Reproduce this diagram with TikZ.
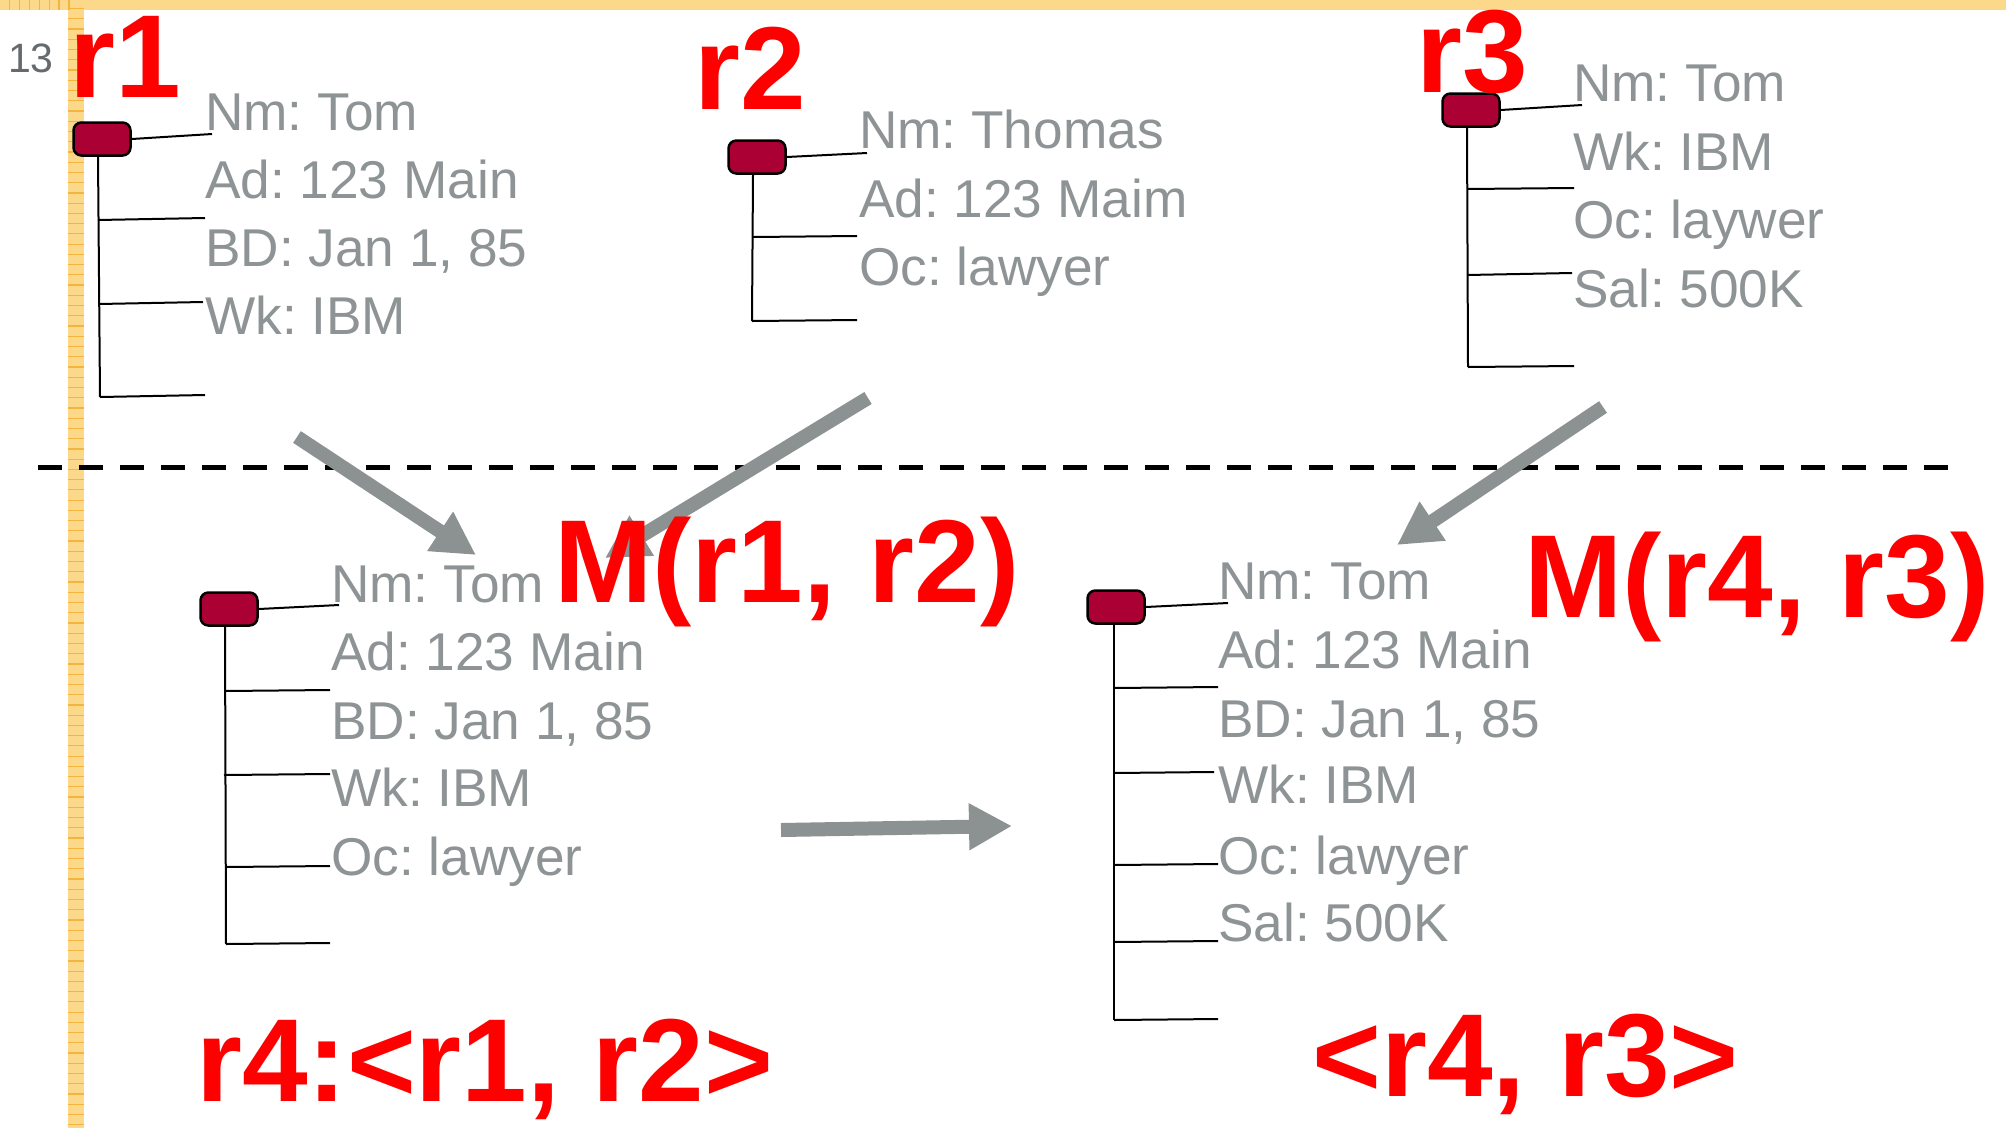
\documentclass[tikz,border=0pt]{standalone}
\usepackage{fontspec}
\setmainfont{Liberation Sans}
\usetikzlibrary{arrows.meta}
\definecolor{iconred}{RGB}{170,0,51}
\definecolor{fieldgray}{RGB}{142,147,149}
\definecolor{arrowgray}{RGB}{140,145,146}
\definecolor{baryellow}{RGB}{252,217,138}
\definecolor{tickorange}{RGB}{245,180,60}
\definecolor{numgray}{RGB}{100,106,110}
\frenchspacing
\begin{document}
\begin{tikzpicture}[x=1pt,y=-1pt,
  rec/.style={draw=black,line width=2.5pt,fill=iconred,rounded corners=8pt,minimum width=57pt,minimum height=33pt,inner sep=0pt},
  fld/.style={anchor=base west,inner sep=0pt,text=fieldgray,font=\fontsize{53.2}{60}\selectfont},
  lbl/.style={anchor=base west,inner sep=0pt,text=red,font=\fontsize{118}{130}\selectfont\bfseries},
  tree/.style={draw=black,line width=2pt},
  blk/.style={draw=arrowgray,line width=14pt,-{Triangle[length=43pt,width=44pt]}}]
\useasboundingbox (0,0) rectangle (2006,1128);
\fill[white] (0,0) rectangle (2006,1128);
% ruler bars
\fill[baryellow] (0,0) rectangle (2006,10);
\fill[baryellow] (68,0) rectangle (84,1128);
\foreach \k in {0,...,109} \draw[tickorange,line width=1.2pt] (68,{8.6+10.24*\k}) -- (84,{8.6+10.24*\k});
\foreach \k in {0,...,6} \draw[tickorange,line width=1.2pt] ({9.5+9.9*\k},0) -- ({9.5+9.9*\k},10);
\node[anchor=base west,inner sep=0pt,text=numgray,font=\fontsize{41}{48}\selectfont] (pg) at (8,72) {13};

% dashed separator
\coordinate (dl) at (38,467);
\coordinate (dr) at (1953,467);
\draw[black,line width=5pt,dash pattern=on 24pt off 17pt] (dl) -- (dr);

% ---------- record r1
\node[rec] (i1) at (102,139) {};
\coordinate (r1v) at (100,397);
\draw[tree] (i1.south) ++(-4,0) -- (r1v);
\coordinate (r1a) at (212,134);
\draw[tree] (i1.east) -- (r1a);
\coordinate (r1b0) at (98,220); \coordinate (r1b) at (205,218);
\coordinate (r1c0) at (99,304); \coordinate (r1c) at (203,302);
\coordinate (r1d) at (205,395);
\draw[tree] (r1b0) -- (r1b);
\draw[tree] (r1c0) -- (r1c);
\draw[tree] (r1v) -- (r1d);
\node[fld] (t11) at (205,130) {Nm: Tom};
\node[fld] (t12) at (205,198) {Ad: 123 Main};
\node[fld] (t13) at (205,266) {BD: Jan 1, 85};
\node[fld] (t14) at (205,334) {Wk: IBM};

% ---------- record r2
\node[rec] (i2) at (757,157) {};
\coordinate (r2v) at (752,321);
\draw[tree] (i2.south) ++(-4,0) -- (r2v);
\coordinate (r2a) at (867,153);
\draw[tree] (i2.east) -- (r2a);
\coordinate (r2b0) at (753,237); \coordinate (r2b) at (857,236);
\coordinate (r2c) at (857,320);
\draw[tree] (r2b0) -- (r2b);
\draw[tree] (r2v) -- (r2c);
\node[fld] (t21) at (859,148) {Nm: Thomas};
\node[fld] (t22) at (859,217) {Ad: 123 Maim};
\node[fld] (t23) at (859,285) {Oc: lawyer};

% ---------- record r3
\node[rec] (i3) at (1471,110) {};
\coordinate (r3v) at (1468,367);
\draw[tree] (i3.south) ++(-4,0) -- (r3v);
\coordinate (r3a) at (1582,105);
\draw[tree] (i3.east) -- (r3a);
\coordinate (r3b0) at (1467,189); \coordinate (r3b) at (1574,188);
\coordinate (r3c0) at (1467,275); \coordinate (r3c) at (1572,273);
\coordinate (r3d) at (1574,366);
\draw[tree] (r3b0) -- (r3b);
\draw[tree] (r3c0) -- (r3c);
\draw[tree] (r3v) -- (r3d);
\node[fld] (t31) at (1573,101) {Nm: Tom};
\node[fld] (t32) at (1573,170) {Wk: IBM};
\node[fld] (t33) at (1573,238) {Oc: laywer};
\node[fld] (t34) at (1573,307) {Sal: 500K};

% ---------- record r4
\node[rec] (i4) at (229,609) {};
\coordinate (r4v) at (226,944);
\draw[tree] (i4.south) ++(-4,0) -- (r4v);
\coordinate (r4a) at (339,605);
\draw[tree] (i4.east) -- (r4a);
\coordinate (r4b0) at (225,691); \coordinate (r4b) at (330,690);
\coordinate (r4c0) at (224,775); \coordinate (r4c) at (330,774);
\coordinate (r4d0) at (226,867); \coordinate (r4d) at (330,866);
\coordinate (r4e) at (330,943);
\draw[tree] (r4b0) -- (r4b);
\draw[tree] (r4c0) -- (r4c);
\draw[tree] (r4d0) -- (r4d);
\draw[tree] (r4v) -- (r4e);
\node[fld] (t41) at (331,602) {Nm: Tom};
\node[fld] (t42) at (331,670) {Ad: 123 Main};
\node[fld] (t43) at (331,739) {BD: Jan 1, 85};
\node[fld] (t44) at (331,806) {Wk: IBM};
\node[fld] (t45) at (331,875) {Oc: lawyer};

% ---------- record r5
\node[rec] (i5) at (1116,607) {};
\coordinate (r5v) at (1114,1020);
\draw[tree] (i5.south) ++(-2,0) -- (r5v);
\coordinate (r5a) at (1228,603);
\draw[tree] (i5.east) -- (r5a);
\coordinate (r5b0) at (1114,688); \coordinate (r5b) at (1218,687);
\coordinate (r5c0) at (1114,773); \coordinate (r5c) at (1214,772);
\coordinate (r5d0) at (1114,865); \coordinate (r5d) at (1218,864);
\coordinate (r5e0) at (1114,942); \coordinate (r5e) at (1218,941);
\coordinate (r5f) at (1218,1019);
\draw[tree] (r5b0) -- (r5b);
\draw[tree] (r5c0) -- (r5c);
\draw[tree] (r5d0) -- (r5d);
\draw[tree] (r5e0) -- (r5e);
\draw[tree] (r5v) -- (r5f);
\node[fld] (t51) at (1218,599) {Nm: Tom};
\node[fld] (t52) at (1218,668) {Ad: 123 Main};
\node[fld] (t53) at (1218,737) {BD: Jan 1, 85};
\node[fld] (t54) at (1218,803) {Wk: IBM};
\node[fld] (t55) at (1218,874) {Oc: lawyer};
\node[fld] (t56) at (1218,941) {Sal: 500K};

% ---------- block arrows
\coordinate (a1s) at (297,437); \coordinate (a1e) at (476,555);
\coordinate (a2s) at (868,398); \coordinate (a2e) at (605,558);
\coordinate (a3s) at (1603,407); \coordinate (a3e) at (1397,545);
\coordinate (a4s) at (781,830); \coordinate (a4e) at (1012,826);
\draw[blk] (a1s) -- (a1e);
\draw[blk] (a2s) -- (a2e);
\draw[blk] (a3s) -- (a3e);
\draw[blk] (a4s) -- (a4e);

% ---------- red labels
\node[lbl] (l1) at (69,97) {r1};
\node[lbl] (l2) at (694,109) {r2};
\node[lbl] (l3) at (1416,92) {r3};
\node[lbl] (m12) at (554,602) {M(r1, r2)};
\node[lbl] (m43) at (1524,617) {M(r4, r3)};
\node[lbl] (c12) at (196,1101) {r4:<r1, r2>};
\node[lbl] (c43) at (1312,1096) {<r4, r3>};
\end{tikzpicture}
\end{document}
